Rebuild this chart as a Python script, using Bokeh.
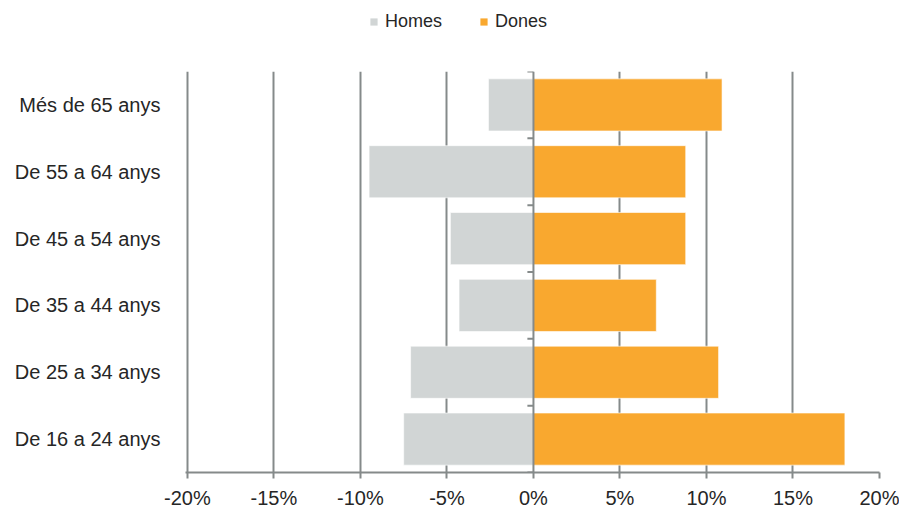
from bokeh.plotting import figure
from bokeh.layouts import column
from bokeh.models import (FactorRange, Range1d, FixedTicker, Legend, LegendItem,
                          Span, PrintfTickFormatter)
from bokeh.embed import file_html
from bokeh.resources import INLINE

# Age groups, listed bottom to top
categories = ["De 16 a 24 anys", "De 25 a 34 anys", "De 35 a 44 anys",
              "De 45 a 54 anys", "De 55 a 64 anys", "Més de 65 anys"]
homes = [-7.5, -7.1, -4.3, -4.8, -9.5, -2.6]   # % (men, plotted to the left)
dones = [18.0, 10.7, 7.1, 8.8, 8.8, 10.9]      # % (women)
series_names = ["Homes", "Dones"]
x_ticks = [-20, -15, -10, -5, 0, 5, 10, 15, 20]
grid_ticks = [-20, -15, -10, -5, 5, 10, 15]

AXIS = "#858a8a"
TEXT = "#262626"
FONT = "Liberation Sans"
C_H = "#D1D5D5"
C_D = "#F9A82F"

W = 899
LEG_H = 40
FRAME_LEFT = 185

# ---------------- main chart ----------------
p = figure(width=W, height=511 - LEG_H, output_backend="svg", toolbar_location=None,
           y_range=FactorRange(factors=categories), x_range=Range1d(-20.11, 20),
           min_border_left=FRAME_LEFT, min_border_right=20, min_border_top=71 - LEG_H,
           min_border_bottom=37)
p.outline_line_color = None

p.ygrid.grid_line_color = None
p.xgrid.ticker = FixedTicker(ticks=grid_ticks)
p.xgrid.grid_line_color = AXIS
p.xgrid.grid_line_width = 2

p.hbar(y=categories, left=0, right=homes, height=0.78,
       fill_color=C_H, line_color="#ffffff", line_alpha=0.6, line_width=1)
p.hbar(y=categories, left=0, right=dones, height=0.78,
       fill_color=C_D, line_color="#ffffff", line_alpha=0.6, line_width=1)

# central vertical axis line at 0 with ticks at category boundaries
p.add_layout(Span(location=0, dimension="height", line_color=AXIS, line_width=2))
bounds = [(c, -0.5) for c in categories] + [(categories[-1], 0.5)]
p.segment(x0=[-0.35] * len(bounds), x1=[0] * len(bounds), y0=bounds, y1=bounds,
          line_color=AXIS, line_width=2)

xa = p.xaxis[0]
xa.ticker = FixedTicker(ticks=x_ticks)
xa.formatter = PrintfTickFormatter(format="%d%%")
xa.axis_line_color = AXIS
xa.axis_line_width = 2
xa.major_tick_line_color = AXIS
xa.major_tick_line_width = 2
xa.major_tick_out = 6
xa.major_tick_in = 0
xa.minor_tick_line_color = None
xa.major_label_standoff = 8
xa.major_label_text_font = FONT
xa.major_label_text_font_size = "20px"
xa.major_label_text_color = TEXT

ya = p.yaxis[0]
ya.axis_line_color = None
ya.major_tick_line_color = None
ya.major_tick_out = 0
ya.major_tick_in = 0
ya.minor_tick_line_color = None
ya.major_label_standoff = 25
ya.major_label_text_font = FONT
ya.major_label_text_font_size = "20px"
ya.major_label_text_color = TEXT

# ---------------- legend strip ----------------
lg = figure(width=W, height=LEG_H, output_backend="svg", toolbar_location=None,
            x_range=Range1d(0, 1), y_range=Range1d(0, 1),
            min_border=0, min_border_left=0, min_border_right=0,
            min_border_top=0, min_border_bottom=0)
lg.outline_line_color = None
lg.axis.visible = False
lg.grid.visible = False
# zero-size stand-in bars that only feed the legend swatches
lr_h = lg.hbar(y=[0], left=[0], right=[0], height=0, fill_color=C_H, line_color=None)
lr_d = lg.hbar(y=[0], left=[0], right=[0], height=0, fill_color=C_D, line_color=None)
legend = Legend(items=[LegendItem(label=series_names[0], renderers=[lr_h]),
                       LegendItem(label=series_names[1], renderers=[lr_d])],
                orientation="horizontal", location=(369 - FRAME_LEFT, 8),
                glyph_width=9, glyph_height=9, label_standoff=7, spacing=37,
                padding=0, margin=0, border_line_color=None,
                background_fill_alpha=0,
                label_text_font=FONT, label_text_font_size="18px",
                label_text_color=TEXT)
lg.add_layout(legend, "center")

layout = column(lg, p, spacing=0)
open("out.html", "w").write(file_html(layout, INLINE))
